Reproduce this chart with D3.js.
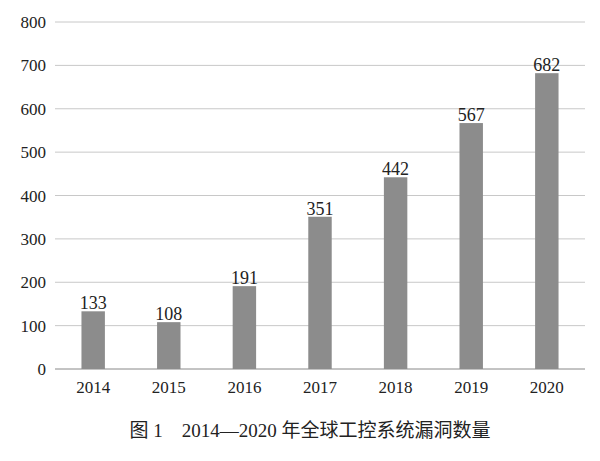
<!DOCTYPE html>
<html><head><meta charset="utf-8">
<script src="https://cdn.jsdelivr.net/npm/d3@7"></script>
<style>body{margin:0;background:#fff}</style></head>
<body><svg id="c" width="600" height="461"></svg>
<script>
const years = ["2014","2015","2016","2017","2018","2019","2020"];
const counts = [133,108,191,351,442,567,682];
const yTicks = [0,100,200,300,400,500,600,700,800];
const caption = "图 1\u30002014—2020 年全球工控系统漏洞数量";

const svg = d3.select("#c");
const m = {l:55, r:585, t:22, b:369};
const x = d3.scaleBand().domain(years).range([m.l, m.r]).paddingInner(0.69).paddingOuter(0.35);
const y = d3.scaleLinear().domain([0,800]).range([m.b, m.t]);
const font = "'Liberation Serif','Times New Roman',serif";

svg.append("g").selectAll("line").data(yTicks).join("line")
  .attr("x1", m.l).attr("x2", m.r).attr("y1", d=>y(d)).attr("y2", d=>y(d))
  .attr("stroke", d=>d===0?"#888":"#c8c8c8").attr("stroke-width",1);
svg.append("g").selectAll("text").data(yTicks).join("text")
  .attr("x", 46).attr("y", d=>y(d)+6).attr("text-anchor","end")
  .attr("font-family",font).attr("font-size",17).attr("fill","#222").text(d=>d);
svg.append("g").selectAll("rect").data(counts).join("rect")
  .attr("x",(d,i)=>x(years[i])).attr("width",x.bandwidth())
  .attr("y",d=>y(d)).attr("height",d=>y(0)-y(d)).attr("fill","#8c8c8c");
svg.append("g").selectAll("text").data(counts).join("text")
  .attr("x",(d,i)=>x(years[i])+x.bandwidth()/2).attr("y",d=>y(d)-2)
  .attr("text-anchor","middle").attr("font-family",font).attr("font-size",18).attr("fill","#222").text(d=>d);
svg.append("g").selectAll("text").data(years).join("text")
  .attr("x",d=>x(d)+x.bandwidth()/2).attr("y",393).attr("text-anchor","middle")
  .attr("font-family",font).attr("font-size",17).attr("fill","#222").text(d=>d);
svg.append("text").attr("x",310).attr("y",437).attr("text-anchor","middle")
  .attr("font-family","'Liberation Serif','Noto Sans CJK SC',serif").attr("font-size",19).attr("fill","#222").text(caption);
</script></body></html>
